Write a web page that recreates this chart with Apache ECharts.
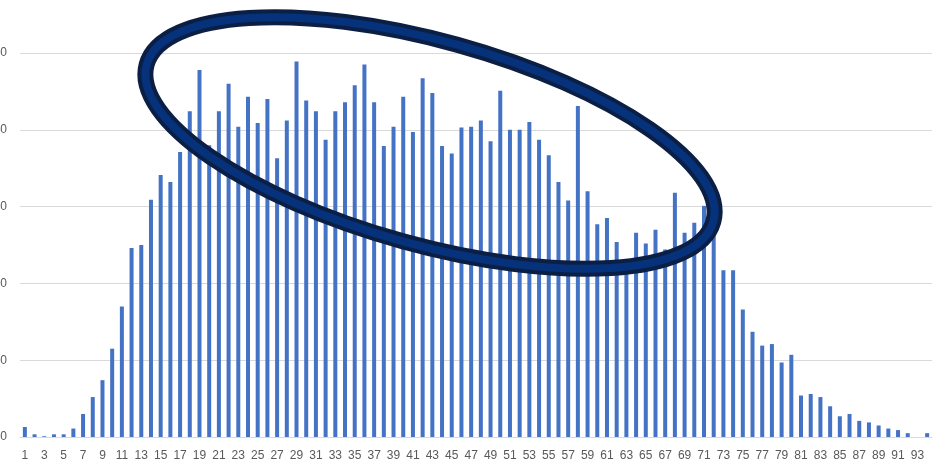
<!DOCTYPE html>
<html>
<head>
<meta charset="utf-8">
<script src="https://cdn.jsdelivr.net/npm/echarts@6/dist/echarts.min.js"></script>
<style>html,body{margin:0;padding:0;background:#fff}#c{width:933px;height:462px}</style>
</head>
<body>
<div id="c"></div>
<script>
// Categories 1..94
const categories = [];
for (let i = 1; i <= 94; i++) categories.push(String(i));

// Bar values (gridline units of 10)
const values = [
  1.3, 0.35, 0.1, 0.35, 0.35, 1.1, 3.0, 5.2, 7.4, 11.5,
  17.0, 24.6, 25.0, 30.9, 34.1, 33.2, 37.1, 42.4, 47.8, 38.0,
  42.4, 46.0, 40.4, 44.3, 40.9, 44.0, 36.3, 41.2, 48.9, 43.8,
  42.4, 38.7, 42.4, 43.6, 45.8, 48.5, 43.6, 37.9, 40.4, 44.3,
  39.7, 46.7, 44.8, 37.9, 36.9, 40.3, 40.4, 41.2, 38.5, 45.1,
  40.0, 40.0, 41.0, 38.7, 36.7, 33.2, 30.8, 43.1, 32.0, 27.7,
  28.5, 25.4, 22.0, 26.6, 25.2, 27.0, 24.4, 31.8, 26.6, 27.9,
  30.1, 27.0, 21.7, 21.7, 16.6, 13.7, 11.9, 12.1, 9.7, 10.7,
  5.4, 5.6, 5.2, 4.0, 2.7, 3.0, 2.1, 1.9, 1.5, 1.1,
  0.9, 0.5, 0, 0.5
];

// Y-axis ticks
const yTicks = [0, 10, 20, 30, 40, 50];

const chart = echarts.init(document.getElementById('c'), null, {renderer: 'canvas'});
chart.setOption({
  animation: false,
  backgroundColor: '#ffffff',
  grid: {left: 20, right: 1, top: 53, bottom: 25, containLabel: false, outerBoundsMode: 'none'},
  xAxis: {
    type: 'category',
    data: categories,
    axisLine: {show: true, lineStyle: {color: '#d9d9d9', width: 1}},
    axisTick: {show: false},
    axisLabel: {
      interval: 1, color: '#595959', fontSize: 12, margin: 13,
      fontFamily: 'Liberation Sans, Arial, sans-serif'
    }
  },
  yAxis: {
    type: 'value',
    min: yTicks[0], max: yTicks[yTicks.length - 1], interval: yTicks[1] - yTicks[0],
    axisLine: {show: false},
    axisTick: {show: false},
    splitLine: {lineStyle: {color: '#d9d9d9', width: 1}},
    axisLabel: {
      color: '#595959', fontSize: 12, margin: 13,
      fontFamily: 'Liberation Sans, Arial, sans-serif'
    }
  },
  series: [{
    type: 'bar',
    data: values,
    barWidth: 4,
    itemStyle: {color: '#4472C4'}
  }],
  graphic: [
    {
      type: 'ellipse', z: 100,
      x: 430, y: 143, rotation: -15.5 * Math.PI / 180,
      shape: {cx: 0, cy: 0, rx: 294, ry: 102},
      style: {fill: 'transparent', stroke: '#0b1f45', lineWidth: 16}
    },
    {
      type: 'ellipse', z: 101,
      x: 430, y: 143, rotation: -15.5 * Math.PI / 180,
      shape: {cx: 0, cy: 0, rx: 294, ry: 102},
      style: {fill: 'transparent', stroke: '#06327c', lineWidth: 8}
    }
  ]
});
</script>
</body>
</html>
